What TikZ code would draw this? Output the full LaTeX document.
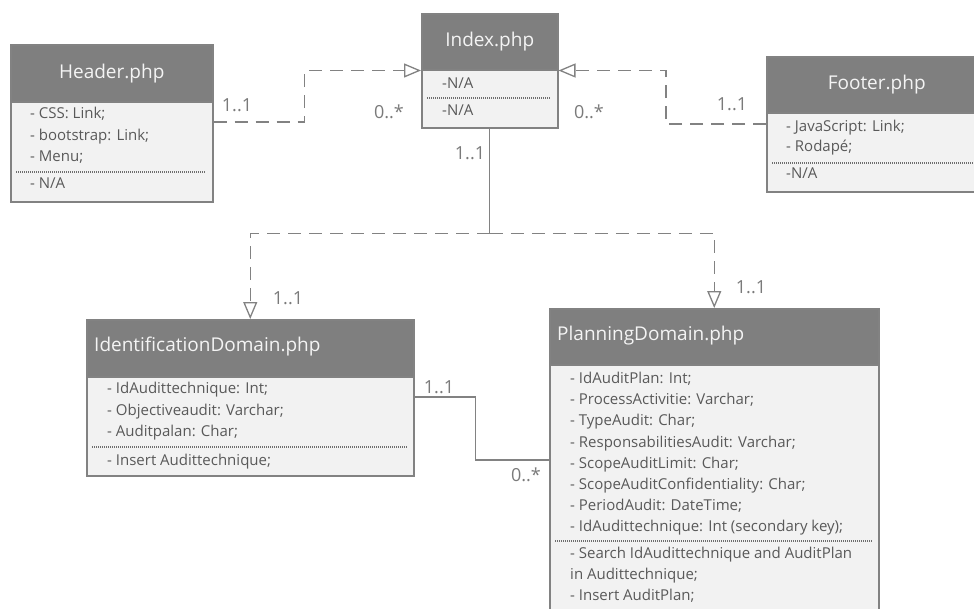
\documentclass[tikz,border=0pt]{standalone}
\usepackage{fontspec}
\setmainfont{Open Sans}
\usetikzlibrary{arrows.meta,calc}
\definecolor{bandc}{HTML}{7F7F7F}
\definecolor{bodyc}{HTML}{F2F2F2}
\definecolor{edgec}{HTML}{828282}
\definecolor{txtc}{HTML}{595959}
\definecolor{labc}{HTML}{7A7A7A}
\definecolor{ttlc}{HTML}{F4F4F4}
\begin{document}
\begin{tikzpicture}[x=1pt,y=-1pt,
  titlebox/.style={draw=edgec, fill=bandc, line width=1.5pt, anchor=north west, inner sep=0pt, text=ttlc, font=\fontsize{19}{21}\selectfont},
  bodybox/.style={draw=edgec, fill=bodyc, line width=1.5pt, anchor=north west, inner sep=0pt},
  ttltext/.style={anchor=west, inner sep=0pt, text=ttlc, font=\fontsize{19}{21}\selectfont},
  attr/.style={anchor=west, inner sep=0pt, text=txtc, font=\fontsize{15}{18}\selectfont, text height=11pt, text depth=3.5pt},
  mult/.style={text=labc, font=\fontsize{18}{20}\selectfont, inner sep=0pt},
  sepline/.style={draw=edgec!85!black, dash pattern=on 1pt off 1pt, line width=1.2pt},
  dep/.style={draw=edgec, line width=1.3pt, dash pattern=on 13pt off 8pt, -{Triangle[open, length=17pt, width=14pt, fill=white]}},
  plain/.style={draw=edgec, line width=1.3pt}
]
\useasboundingbox (0,0) rectangle (974,608);
\clip (0,0) rectangle (974,608);

% Header.php
\node[titlebox, minimum width=202pt, minimum height=57pt] (hT) at (10,44) {Header.php};
\node[bodybox, minimum width=202pt, minimum height=100pt] (hB) at (10,101) {};
\foreach \t [count=\i] in {{- CSS: Link;},{- bootstrap: Link;},{- Menu;}}
  \node[attr] (hA\i) at ({30},{115+21.5*(\i-1)}) {\t};
\draw[sepline] (16,172) -- (206,172);
\node[attr] (hM1) at (30,185) {- N/A};

% Index.php
\node[titlebox, minimum width=136pt, minimum height=56pt] (iT) at (421,13) {Index.php};
\node[bodybox, minimum width=136pt, minimum height=58pt] (iB) at (421,69) {};
\node[attr] (iA1) at (442,85) {-N/A};
\draw[sepline] (427,98) -- (551,98);
\node[attr] (iM1) at (442,112) {-N/A};

% Footer.php
\node[titlebox, minimum width=220pt, minimum height=56pt, text width=220pt, align=left] (fT) at (766,56) {\hspace*{61pt}Footer.php};
\node[bodybox, minimum width=220pt, minimum height=79pt] (fB) at (766,112) {};
\node[attr] (fA1) at (786,128) {- JavaScript: Link;};
\node[attr] (fA2) at (786,148) {- Rodapé;};
\draw[sepline] (772,163) -- (980,163);
\node[attr] (fM1) at (786,175) {-N/A};

% IdentificationDomain.php
\node[titlebox, minimum width=327pt, minimum height=57pt] (idT) at (86,319) {};
\node[ttltext] (idTt) at (94,347) {IdentificationDomain.php};
\node[bodybox, minimum width=327pt, minimum height=99pt] (idB) at (86,376) {};
\foreach \t [count=\i] in {{- IdAudittechnique: Int;},{- Objectiveaudit: Varchar;},{- Auditpalan: Char;}}
  \node[attr] (idA\i) at ({107},{390+21.5*(\i-1)}) {\t};
\draw[sepline] (92,447) -- (407,447);
\node[attr] (idM1) at (107,462) {- Insert Audittechnique;};

% PlanningDomain.php
\node[titlebox, minimum width=329pt, minimum height=56pt] (pT) at (549,308) {};
\node[ttltext] (pTt) at (557,336) {PlanningDomain.php};
\node[bodybox, minimum width=329pt, minimum height=270pt] (pB) at (549,364) {};
\foreach \t [count=\i] in {{- IdAuditPlan: Int;},{- ProcessActivitie: Varchar;},{- TypeAudit: Char;},{- ResponsabilitiesAudit: Varchar;},{- ScopeAuditLimit: Char;},{- ScopeAuditConfidentiality: Char;},{- PeriodAudit: DateTime;},{- IdAudittechnique: Int (secondary key);}}
  \node[attr] (pA\i) at ({570},{380+21.1*(\i-1)}) {\t};
\draw[sepline] (555,541) -- (872,541);
\node[attr] (pM1) at (570,555) {- Search IdAudittechnique and AuditPlan};
\node[attr] (pM2) at (570,576) {in Audittechnique;};
\node[attr] (pM3) at (570,597) {- Insert AuditPlan;};

% connectors
\draw[dep] ($(hB.north east)+(0,21)$) -- ++(91,0) |- (iT.south west);
\draw[dep] ($(fB.north west)+(0,12)$) -- ++(-100,0) |- (iT.south east);
\coordinate (j) at ($(iB.south)+(0,105)$);
\draw[plain] (iB.south) -- (j);
\draw[dep] (j) -| (idT.north);
\draw[dep] (j) -| (pT.north);
\draw[plain] ($(idB.north east)+(0,21)$) -- ++(61,0) |- ($(pB.north west)+(0,96)$);

% multiplicities
\node[mult] (m1) at (237,105) {1..1};
\node[mult] (m2) at (389,112) {0..*};
\node[mult] (m3) at (589,112) {0..*};
\node[mult] (m4) at (732,104) {1..1};
\node[mult] (m5) at (470,153) {1..1};
\node[mult] (m6) at (288,298) {1..1};
\node[mult] (m7) at (751,287) {1..1};
\node[mult] (m8) at (439,387) {1..1};
\node[mult] (m9) at (526,475) {0..*};
\end{tikzpicture}
\end{document}
